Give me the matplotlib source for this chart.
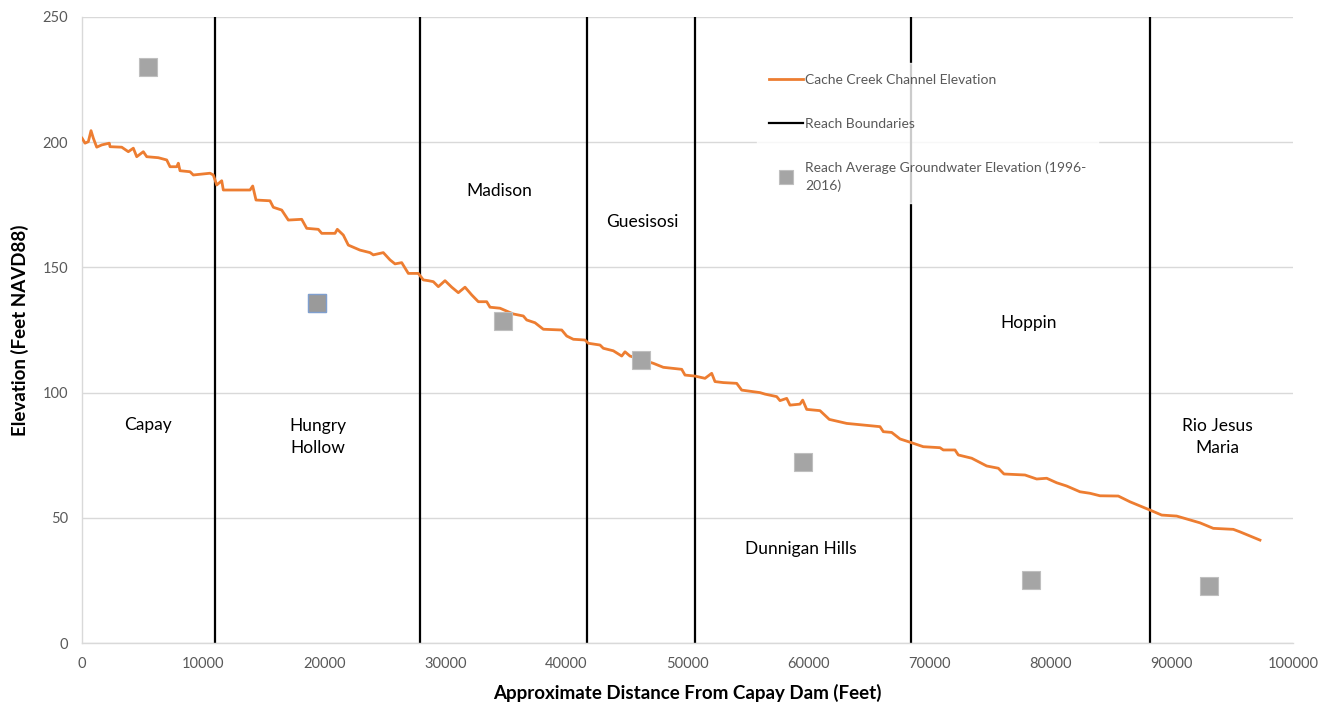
import matplotlib.pyplot as plt

# Cache Creek channel elevation profile (distance in feet, elevation ft NAVD88)
dist = [0, 250, 520, 743, 933, 1214, 1627, 2254, 2312, 3278, 3823, 4236, 4517, 5062, 5343,
        6301, 6994, 7267, 7820, 7952, 8093, 8918, 9191, 10570, 10842, 11123, 11536, 11668,
        13873, 14096, 14368, 15524, 15797, 16490, 17036, 18142, 18555, 19513, 19794, 20892,
        21082, 21578, 21990, 22956, 23782, 24055, 24880, 25433, 25846, 26400, 26945, 27771,
        28183, 28596, 29010, 29423, 29976, 30529, 31074, 31627, 32181, 32726, 33419, 33691,
        34517, 35615, 36441, 36722, 37407, 38093, 39612, 40025, 40570, 41536, 41809, 42776,
        43048, 43874, 44568, 44839, 45252, 47177, 48002, 49522, 49794, 50620, 51445, 51998,
        52271, 52957, 54063, 54476, 55987, 56400, 57366, 57639, 58193, 58464, 59290, 59513,
        59844, 60941, 61710, 63146, 65896, 66169, 66863, 67548, 68374, 69472, 70851, 71124,
        72090, 72363, 73470, 74708, 75666, 76135, 77869, 78836, 79662, 80487, 81313, 82411,
        83237, 84063, 85574, 86540, 88191, 89157, 90397, 92320, 93418, 95072, 95623, 97275]
elev = [201.6, 199.6, 200.2, 204.6, 201.6, 198.0, 198.9, 199.6, 198.2, 198.0, 196.2, 197.6,
        194.2, 196.2, 194.2, 193.8, 192.9, 190.2, 190.2, 191.6, 188.6, 188.2, 186.9, 187.6,
        186.9, 182.9, 184.6, 180.9, 180.9, 182.5, 176.9, 176.6, 174.0, 172.9, 168.9, 169.2,
        165.6, 165.2, 163.6, 163.6, 165.2, 162.9, 158.9, 156.9, 155.9, 155.0, 155.9, 153.0,
        151.4, 151.9, 147.6, 147.6, 145.0, 144.7, 144.3, 142.3, 144.7, 142.1, 139.9, 142.1,
        139.0, 136.3, 136.3, 134.1, 133.7, 131.4, 130.6, 129.0, 127.9, 125.3, 125.0, 122.6,
        121.3, 121.0, 119.7, 119.0, 117.7, 116.7, 114.6, 116.3, 114.6, 111.7, 110.1, 109.3,
        107.0, 106.6, 105.7, 107.7, 104.4, 104.0, 103.7, 101.0, 100.0, 99.4, 98.4, 96.8, 97.7,
        95.0, 95.4, 97.0, 93.3, 92.8, 89.3, 87.7, 86.4, 84.4, 84.1, 81.5, 80.2, 78.4, 78.0,
        77.1, 77.1, 75.1, 73.8, 70.7, 69.8, 67.5, 67.1, 65.5, 65.8, 64.0, 62.7, 60.4, 59.8,
        58.8, 58.7, 56.4, 53.1, 51.1, 50.7, 48.0, 45.8, 45.4, 44.4, 41.1]

# Reach boundaries (feet from dam)
boundaries = [10980, 27900, 41700, 50620, 68450, 88190]

# Reach average groundwater elevation 1996-2016
gw_dist = [5450, 19400, 34760, 46160, 59540, 78360, 93060]
gw_elev = [230.0, 135.8, 128.6, 113.0, 72.3, 25.2, 22.8]

# Reach names and label positions
reach_names = ["Capay", "Hungry\nHollow", "Madison", "Guesisosi", "Dunnigan Hills", "Hoppin", "Rio Jesus\nMaria"]
reach_x = [5450, 19490, 34440, 46240, 59370, 78200, 93720]
reach_y = [87.1, 82.3, 180.5, 168.1, 37.5, 127.8, 82.3]

plt.rcParams['font.family'] = ['Lato', 'DejaVu Sans']

fig = plt.figure(figsize=(13.23, 7.04), dpi=100)
ax = fig.add_axes([0.062, 0.0866, 0.9153, 0.8893])

orange = '#ED7D31'
grid_c = '#D9D9D9'

ax.plot(dist, elev, color=orange, lw=2.0, zorder=3, label='Cache Creek Channel Elevation')
for i, b in enumerate(boundaries):
    ax.axvline(b, color='black', lw=1.6, zorder=2,
               label='Reach Boundaries' if i == 0 else None)
ax.plot(gw_dist, gw_elev, 's', color='#A5A5A5', ms=12.5, mec='#BFBFBF', mew=0.8, zorder=4,
        label='Reach Average Groundwater Elevation (1996-\n2016)')
# selected point (as in the source screenshot)
ax.plot(gw_dist[1], gw_elev[1], 's', color='#9A9A9A', ms=12.5, mec='#7F9FCF', mew=1.0, zorder=5)

for name, x, y in zip(reach_names, reach_x, reach_y):
    ax.text(x, y, name, ha='center', va='center', fontsize=12.5, color='black',
            linespacing=1.45, zorder=6)

ax.set_xlim(0, 100000)
ax.set_ylim(0, 250)
ax.set_xticks(range(0, 100001, 10000))
ax.set_yticks(range(0, 251, 50))
ax.yaxis.grid(True, color=grid_c, lw=1)
ax.set_axisbelow(True)
ax.tick_params(length=0, labelsize=10.5, labelcolor='#595959', pad=10)
for s in ['top', 'right']:
    ax.spines[s].set_visible(False)
for s in ['left', 'bottom']:
    ax.spines[s].set_color(grid_c)
    ax.spines[s].set_linewidth(1)

ax.set_xlabel('Approximate Distance From Capay Dam (Feet)', fontsize=13.5,
              fontweight='bold', labelpad=9)
ax.set_ylabel('Elevation (Feet NAVD88)', fontsize=13.5, fontweight='bold', labelpad=10)

leg = ax.legend(loc='upper left', bbox_to_anchor=(0.552, 0.938), frameon=True,
                fontsize=10, labelspacing=2.3, handlelength=2.45, handletextpad=0.2,
                borderpad=0.8, markerscale=0.75, fancybox=False)
leg.get_frame().set_facecolor('white')
leg.get_frame().set_edgecolor('white')
leg.set_zorder(10)
for t in leg.get_texts():
    t.set_color('#595959')
    t.set_linespacing(1.45)

fig.savefig('out.png', dpi=100)
